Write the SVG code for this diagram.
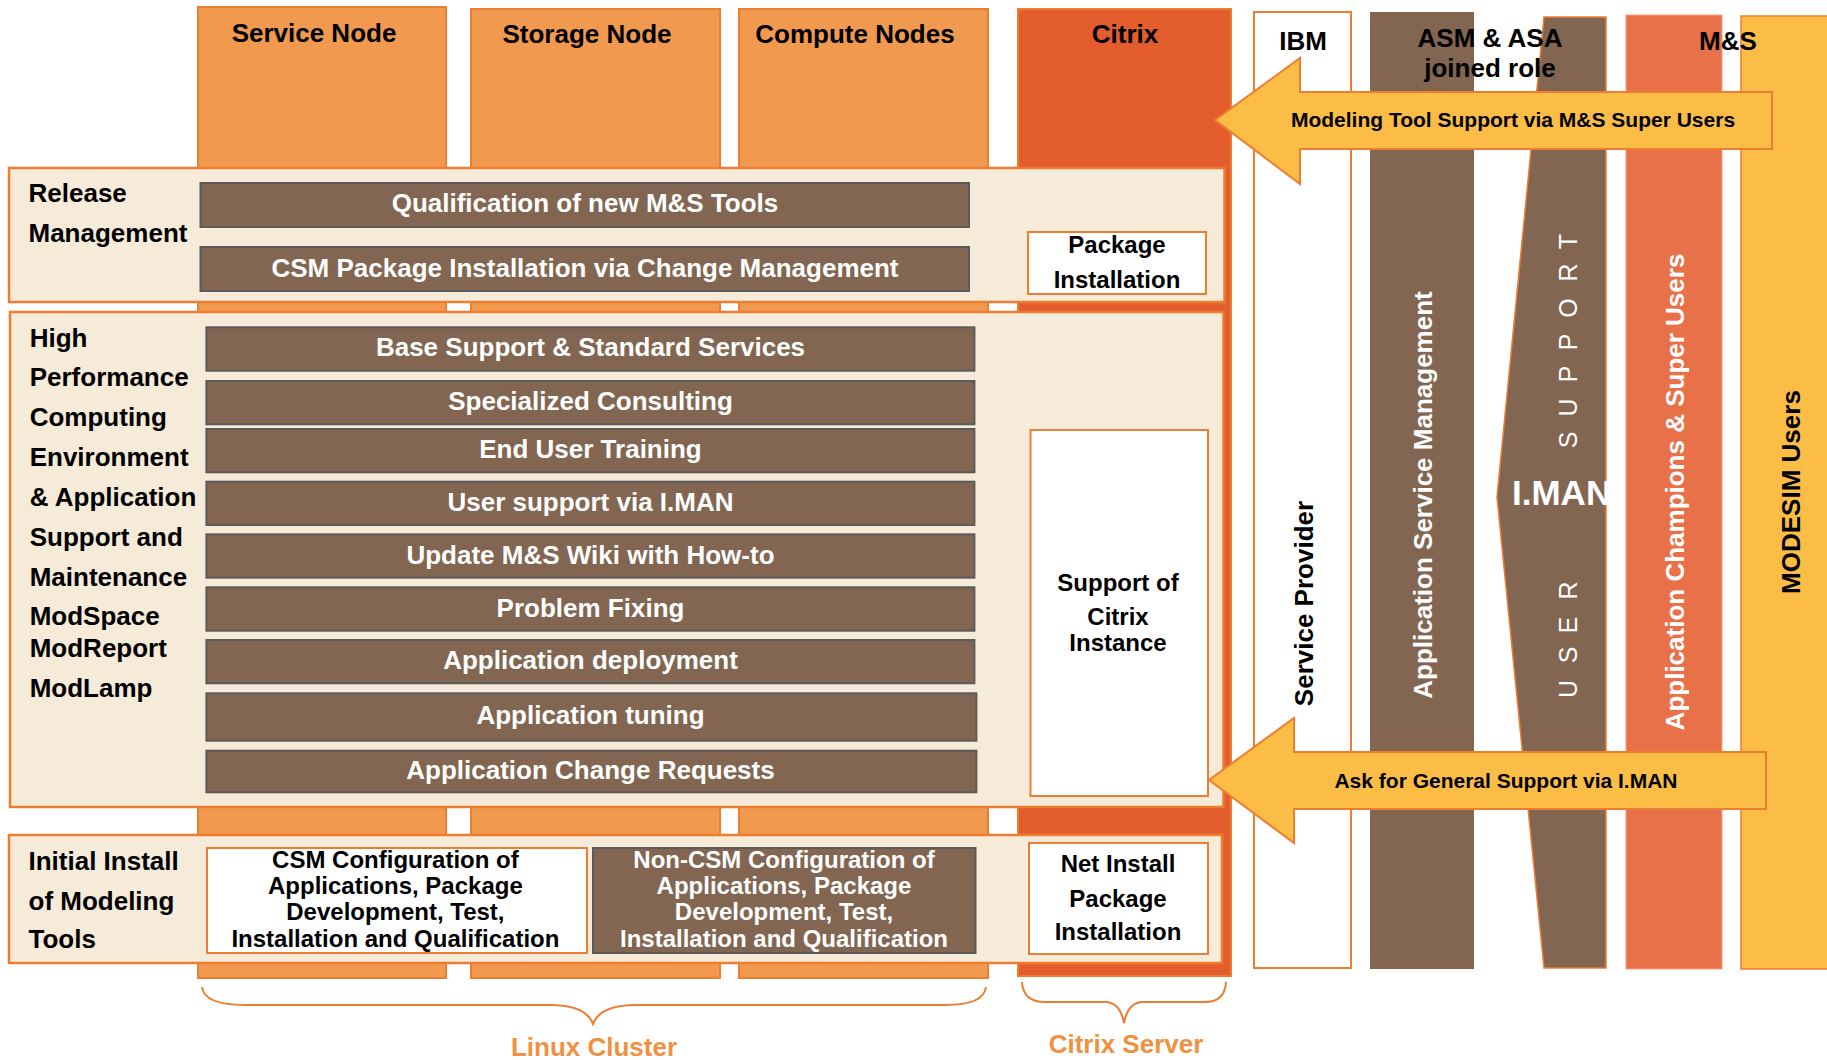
<svg xmlns="http://www.w3.org/2000/svg" width="1827" height="1060" viewBox="0 0 1827 1060">
<style>
text { font-family: "Liberation Sans", Arial, sans-serif; font-weight: bold; }
.t26 { font-size: 26px; }
.t24 { font-size: 24px; }
.t21 { font-size: 21px; }
.mid { text-anchor: middle; }
.blk { fill: #000; }
.wht { fill: #fff; }
.col { fill: #F0994F; stroke: #ED7D31; stroke-width: 2; }
.box { fill: #F6EAD8; stroke: #ED7D31; stroke-width: 2.5; }
.bar { fill: #826651; stroke: #5B5B5B; stroke-width: 2; }
.wbox { fill: #fff; stroke: #ED7D31; stroke-width: 2; }
.arrow { fill: #FBBD45; stroke: #ED7D31; stroke-width: 2; }
.brace { fill: none; stroke: #ED7D31; stroke-width: 2; }
.lbl { fill: #F0913F; }
</style>
<rect width="1827" height="1060" fill="#fff"/>

<!-- infrastructure columns -->
<g id="col-service"><rect class="col" x="198" y="7" width="248" height="971"/><text class="t26 blk mid" x="314" y="42">Service Node</text></g>
<g id="col-storage"><rect class="col" x="471" y="9" width="249" height="969"/><text class="t26 blk mid" x="587" y="43">Storage Node</text></g>
<g id="col-compute"><rect class="col" x="739" y="9" width="249" height="969"/><text class="t26 blk mid" x="855" y="43">Compute Nodes</text></g>
<g id="col-citrix"><rect x="1018" y="9" width="213" height="967" fill="#E45D2C" stroke="#ED7D31" stroke-width="2"/><text class="t26 blk mid" x="1125" y="43">Citrix</text></g>

<!-- role columns -->
<g id="col-ibm"><rect x="1254" y="12" width="97" height="956" fill="#fff" stroke="#ED7D31" stroke-width="2"/><text class="t26 blk mid" x="1303" y="50">IBM</text>
<text class="t26 blk mid" transform="rotate(-90 1313 603.5)" x="1313" y="603.5">Service Provider</text></g>
<g id="col-asm"><rect x="1370" y="12" width="104" height="957" fill="#826651"/>
<text class="t26 wht mid" transform="rotate(-90 1432 495)" x="1432" y="495">Application Service Management</text></g>
<g id="col-iman"><polygon points="1544,17 1606,17 1606,968 1544,968 1497,497" fill="#826651" stroke="#ED7D31" stroke-width="1.5"/>
<text class="wht" style="font-size:35px" x="1512" y="505">I.MAN</text>
<g transform="rotate(-90)" style="font-weight:normal;font-size:25px" fill="#fff" text-anchor="middle">
<text style="font-weight:normal" x="-689 -655 -625 -590.5" y="1577">USER</text>
<text style="font-weight:normal" x="-440 -407.5 -374 -342 -308 -272.5 -241.7" y="1577">SUPPORT</text>
</g></g>
<g id="col-ms"><rect x="1626" y="15" width="96" height="954" fill="#E9714A" stroke="#F2A27C" stroke-width="1"/>
<text class="t26 wht mid" transform="rotate(-90 1684 492)" x="1684" y="492">Application Champions &amp; Super Users</text></g>
<g id="col-modesim"><rect x="1741" y="16" width="95" height="953" fill="#FBBD45" stroke="#ED7D31" stroke-width="1.5"/>
<text class="t26 blk mid" transform="rotate(-90 1800 492)" x="1800" y="492">MODESIM Users</text></g>
<g id="role-titles"><text class="t26 blk mid" x="1490" y="47">ASM &amp; ASA</text><text class="t26 blk mid" x="1490" y="77">joined role</text>
<text class="t26 blk mid" x="1728" y="50">M&amp;S</text></g>

<!-- release management -->
<g id="release">
<rect class="box" x="9" y="168" width="1215.5" height="134"/>
<text class="t26 blk" x="28.5" y="202">Release</text>
<text class="t26 blk" x="28.5" y="242">Management</text>
<rect class="bar" x="200.5" y="183" width="768.5" height="44"/>
<text class="t26 wht mid" x="585" y="212">Qualification of new M&amp;S Tools</text>
<rect class="bar" x="200.5" y="247" width="768.5" height="44"/>
<text class="t26 wht mid" x="585" y="276.5">CSM Package Installation via Change Management</text>
<rect class="wbox" x="1028" y="232" width="178" height="62"/>
<text class="t24 blk mid" x="1117" y="253">Package</text>
<text class="t24 blk mid" x="1117" y="288">Installation</text>
</g>

<!-- HPC environment and application support -->
<g id="hpc">
<rect class="box" x="10" y="312" width="1213.5" height="495"/>
<g class="t26 blk">
<text x="29.7" y="346.7">High</text>
<text x="29.7" y="386">Performance</text>
<text x="29.7" y="426">Computing</text>
<text x="29.7" y="466">Environment</text>
<text x="29.7" y="506">&amp; Application</text>
<text x="29.7" y="546">Support and</text>
<text x="29.7" y="586">Maintenance</text>
<text x="29.7" y="625">ModSpace</text>
<text x="29.7" y="656.7">ModReport</text>
<text x="29.7" y="696.7">ModLamp</text>
</g>
<rect class="bar" x="206.4" y="327.3" width="768" height="43.4"/>
<rect class="bar" x="206.4" y="381" width="768" height="43.3"/>
<rect class="bar" x="206.4" y="429" width="768" height="43.3"/>
<rect class="bar" x="206.4" y="481.7" width="768" height="43.3"/>
<rect class="bar" x="206.4" y="534.3" width="768" height="43.4"/>
<rect class="bar" x="206.4" y="587.3" width="768" height="43.4"/>
<rect class="bar" x="206.4" y="640" width="768" height="43.3"/>
<rect class="bar" x="206.4" y="693.3" width="770" height="47.4"/>
<rect class="bar" x="206.4" y="750.7" width="770" height="41.6"/>
<g class="t26 wht mid">
<text x="590.5" y="356">Base Support &amp; Standard Services</text>
<text x="590.5" y="410">Specialized Consulting</text>
<text x="590.5" y="457.5">End User Training</text>
<text x="590.5" y="510.5">User support via I.MAN</text>
<text x="590.5" y="563.5">Update M&amp;S Wiki with How-to</text>
<text x="590.5" y="616.5">Problem Fixing</text>
<text x="590.5" y="669">Application deployment</text>
<text x="590.5" y="724">Application tuning</text>
<text x="590.5" y="778.5">Application Change Requests</text>
</g>
<rect class="wbox" x="1030.5" y="430" width="177.5" height="366"/>
<text class="t24 blk mid" x="1118" y="590.7">Support of</text>
<text class="t24 blk mid" x="1118" y="624.5">Citrix</text>
<text class="t24 blk mid" x="1118" y="650.5">Instance</text>
</g>

<!-- initial install -->
<g id="initial">
<rect class="box" x="9" y="835" width="1213" height="128"/>
<text class="t26 blk" x="28.5" y="870">Initial Install</text>
<text class="t26 blk" x="28.5" y="910">of Modeling</text>
<text class="t26 blk" x="28.5" y="948.3">Tools</text>
<rect class="wbox" x="207" y="848" width="380" height="105"/>
<g class="t24 blk mid">
<text x="395.4" y="868.3">CSM Configuration of</text>
<text x="395.4" y="894">Applications, Package</text>
<text x="395.4" y="919.5">Development, Test,</text>
<text x="395.4" y="946.7">Installation and Qualification</text>
</g>
<rect class="bar" x="593" y="848" width="382.5" height="105" stroke-width="1.5"/>
<g class="t24 wht mid">
<text x="784" y="868.3">Non-CSM Configuration of</text>
<text x="784" y="894">Applications, Package</text>
<text x="784" y="919.5">Development, Test,</text>
<text x="784" y="946.7">Installation and Qualification</text>
</g>
<rect class="wbox" x="1029" y="843" width="179" height="111"/>
<text class="t24 blk mid" x="1118" y="871.7">Net Install</text>
<text class="t24 blk mid" x="1118" y="906.7">Package</text>
<text class="t24 blk mid" x="1118" y="940">Installation</text>
</g>

<!-- group braces -->
<g id="linux-cluster">
<path class="brace" d="M202,987 Q204,1005 245,1005 L550,1005 Q586,1005 593,1024 Q600,1005 636,1005 L945,1005 Q984,1005 986,987"/>
<text class="t26 lbl mid" x="594" y="1056">Linux Cluster</text>
</g>
<g id="citrix-server">
<path class="brace" d="M1022,982 Q1023,1002 1045,1002 L1105,1002 Q1120,1002 1124,1023 Q1128,1002 1143,1002 L1205,1002 Q1225,1002 1226,982"/>
<text class="t26 lbl mid" x="1126" y="1053">Citrix Server</text>
</g>

<!-- support flows -->
<g id="connectors">
<polygon class="arrow" points="1215,120 1300,58 1300,92 1772,92 1772,149 1300,149 1300,184"/>
<text class="t21 blk mid" x="1513" y="127">Modeling Tool Support via M&amp;S Super Users</text>
<polygon class="arrow" points="1209,780 1294,718 1294,752 1766,752 1766,809 1294,809 1294,843"/>
<text class="t21 blk mid" x="1506" y="787.5">Ask for General Support via I.MAN</text>
</g>
</svg>
